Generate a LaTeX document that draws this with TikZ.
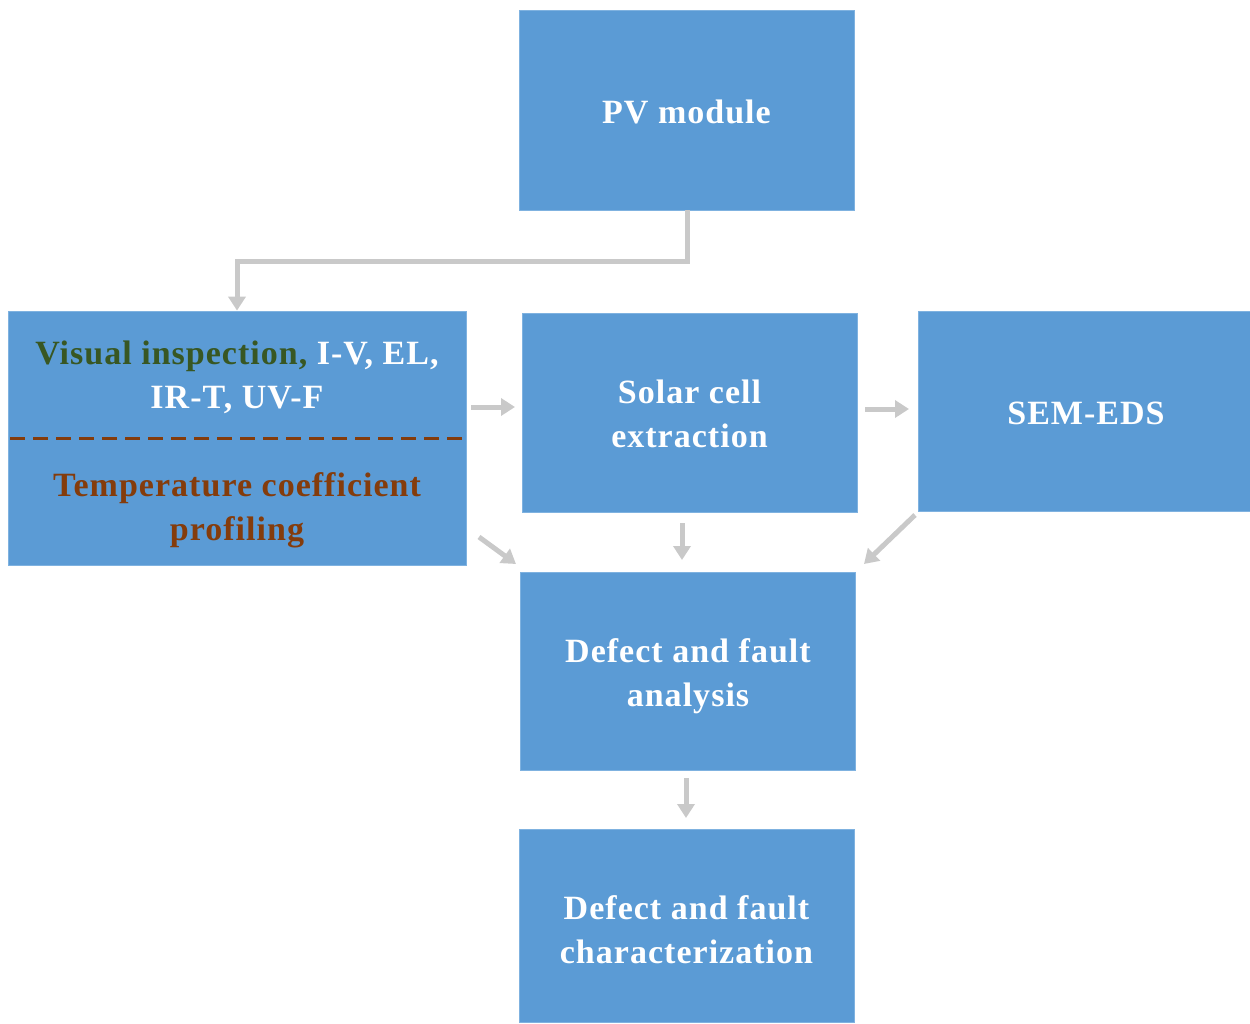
\documentclass[tikz,border=0pt]{standalone}
\usepackage{fontspec}
\setmainfont{Liberation Serif}[LetterSpace=3]
\usetikzlibrary{arrows.meta}
\definecolor{boxblue}{HTML}{5B9BD5}
\definecolor{boxedge}{HTML}{7FB2E0}
\definecolor{flowgray}{HTML}{C9C9C9}
\definecolor{darkgreen}{HTML}{385723}
\definecolor{rust}{HTML}{843C0C}
\begin{document}
\begin{tikzpicture}[x=1pt,y=-1pt,
  box/.style={fill=boxblue, draw=boxedge, line width=0.8pt, inner sep=0pt,
    minimum width=335pt, minimum height=200pt},
  label/.style={text=white, align=center, inner sep=0pt,
    font=\bfseries\fontsize{34}{44}\selectfont},
  flow/.style={draw=flowgray, line width=5pt,
    -{Triangle[width=17pt,length=14pt]}}]
\useasboundingbox (0,0) rectangle (1250,1023);

% boxes
\node[box] (pv) at (686.5,110) {};
\node[box, minimum width=458pt, minimum height=254pt] (tests) at (237,438) {};
\node[box, minimum height=199pt] (cell) at (689.5,412.5) {};
\node[box, minimum width=332pt] (sem) at (1084,411) {};
\node[box, minimum height=198pt] (ana) at (687.5,671) {};
\node[box, minimum height=193pt] (chr) at (686.5,925.5) {};

% texts
\node[label] (pvt) at (686.5,112) {PV module};
\node[label] (testa) at (237,377) {\textcolor{darkgreen}{Visual inspection,} I-V, EL,\\IR-T, UV-F};
\node[label, text=rust] (testb) at (237,510) {Temperature coefficient\\profiling};
\node[label] (cellt) at (689.5,414) {Solar cell\\extraction};
\node[label] (semt) at (1086,413) {SEM-EDS};
\node[label] (anat) at (688,676) {Defect and fault\\analysis};
\node[label] (chrt) at (686.5,930) {Defect and fault\\characterization};

% dashed divider in the left box
\coordinate (dl) at (10,438);
\coordinate (dr) at (462,438);
\draw[rust, line width=3pt, dash pattern=on 15pt off 8pt] (dl) -- (dr);

% connector end points
\coordinate (pvout) at (687,210);
\coordinate (bend) at (687,261);
\coordinate (t2c-a) at (471,407);
\coordinate (t2c-b) at (515,407);
\coordinate (c2s-a) at (865,409);
\coordinate (c2s-b) at (909,409);
\coordinate (c2a-a) at (682,523);
\coordinate (c2a-b) at (682,560);
\coordinate (t2a-a) at (479,537);
\coordinate (t2a-b) at (516,564);
\coordinate (s2a-a) at (915,515);
\coordinate (s2a-b) at (864,564);
\coordinate (a2h-a) at (686,778);
\coordinate (a2h-b) at (686,818);

% connectors
\draw[flow] (pv.south -| pvout) -- (bend) -| (tests.north);
\draw[flow] (t2c-a) -- (t2c-b);
\draw[flow] (c2s-a) -- (c2s-b);
\draw[flow] (c2a-a) -- (c2a-b);
\draw[flow] (t2a-a) -- (t2a-b);
\draw[flow] (s2a-a) -- (s2a-b);
\draw[flow] (a2h-a) -- (a2h-b);
\end{tikzpicture}
\end{document}
